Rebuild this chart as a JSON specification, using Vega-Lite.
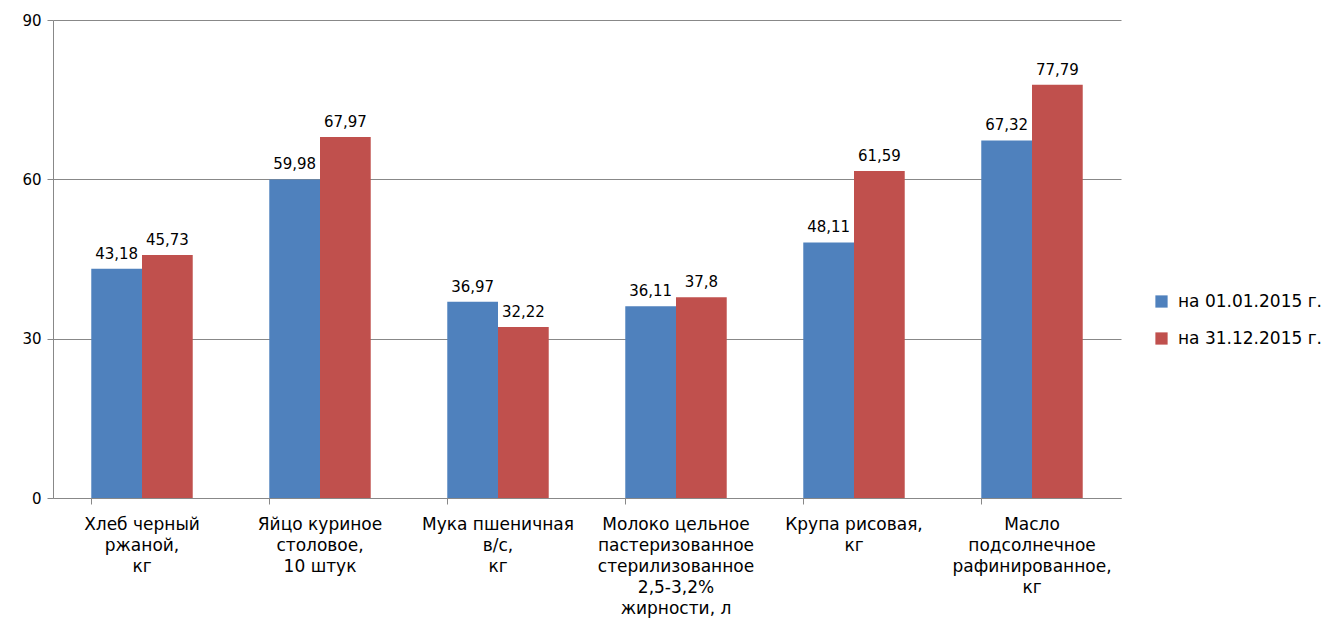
{
  "$schema": "https://vega.github.io/schema/vega-lite/v6.json",
  "width": 1068,
  "height": 478,
  "padding": {"left": 21, "top": 13, "right": 5, "bottom": 5},
  "config": {"view": {"stroke": null}, "font": "DejaVu Sans"},
  "data": {"values": [
    {"cat": "Хлеб черный|ржаной,|кг", "s": "на 01.01.2015 г.", "v": 43.18, "t": "43,18"},
    {"cat": "Хлеб черный|ржаной,|кг", "s": "на 31.12.2015 г.", "v": 45.73, "t": "45,73"},
    {"cat": "Яйцо куриное|столовое,|10 штук", "s": "на 01.01.2015 г.", "v": 59.98, "t": "59,98"},
    {"cat": "Яйцо куриное|столовое,|10 штук", "s": "на 31.12.2015 г.", "v": 67.97, "t": "67,97"},
    {"cat": "Мука пшеничная|в/с,|кг", "s": "на 01.01.2015 г.", "v": 36.97, "t": "36,97"},
    {"cat": "Мука пшеничная|в/с,|кг", "s": "на 31.12.2015 г.", "v": 32.22, "t": "32,22"},
    {"cat": "Молоко цельное|пастеризованное|стерилизованное|2,5-3,2%|жирности, л", "s": "на 01.01.2015 г.", "v": 36.11, "t": "36,11"},
    {"cat": "Молоко цельное|пастеризованное|стерилизованное|2,5-3,2%|жирности, л", "s": "на 31.12.2015 г.", "v": 37.8, "t": "37,8"},
    {"cat": "Крупа рисовая,|кг", "s": "на 01.01.2015 г.", "v": 48.11, "t": "48,11"},
    {"cat": "Крупа рисовая,|кг", "s": "на 31.12.2015 г.", "v": 61.59, "t": "61,59"},
    {"cat": "Масло|подсолнечное|рафинированное,|кг", "s": "на 01.01.2015 г.", "v": 67.32, "t": "67,32"},
    {"cat": "Масло|подсолнечное|рафинированное,|кг", "s": "на 31.12.2015 г.", "v": 77.79, "t": "77,79"}
  ]},
  "encoding": {
    "x": {"field": "cat", "type": "nominal", "sort": null,
      "scale": {"paddingInner": 0.43, "paddingOuter": 0.215},
      "axis": {"title": null, "labelAngle": 0, "labelExpr": "split(datum.label, '|')",
        "labelFontSize": 17, "labelColor": "#000", "labelLineHeight": 21, "labelPadding": 12,
        "domainColor": "#888", "tickColor": "#888", "tickSize": 6, "bandPosition": 0, "labelBound": false, "labelOverlap": false, "labelAlign": "center", "labelLimit": 300}},
    "xOffset": {"field": "s", "type": "nominal"},
    "y": {"field": "v", "type": "quantitative",
      "scale": {"domain": [0, 90], "nice": false},
      "axis": {"title": null, "values": [0, 30, 60, 90], "labelFontSize": 15, "labelColor": "#000",
        "domainColor": "#888", "tickColor": "#888", "gridColor": "#888", "tickSize": 6, "labelPadding": 6}}
  },
  "layer": [
    {"mark": {"type": "bar"},
     "encoding": {"color": {"field": "s", "type": "nominal",
       "scale": {"range": ["#4F81BD", "#C0504D"]},
       "legend": {"title": null, "orient": "none", "legendX": 1100, "legendY": 273, "labelFontSize": 17, "labelColor": "#000",
         "symbolType": "square", "symbolSize": 150, "symbolStrokeWidth": 0, "rowPadding": 19, "labelOffset": 8}}}},
    {"mark": {"type": "text", "baseline": "bottom", "dy": -7, "fontSize": 15, "color": "#000"},
     "encoding": {"text": {"field": "t"}}}
  ]
}
